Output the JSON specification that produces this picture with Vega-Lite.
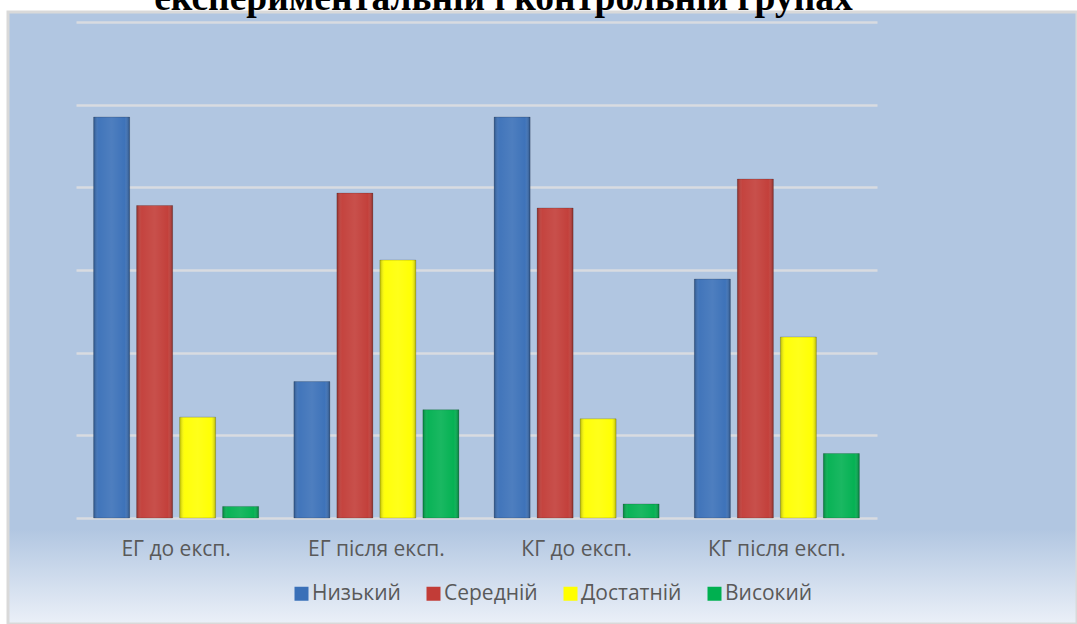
{
  "$schema": "https://vega.github.io/schema/vega-lite/v6.json",
  "autosize": "none",
  "width": 1069,
  "height": 612,
  "padding": {"left": 8, "top": 12, "right": 0, "bottom": 0},
  "background": "white",
  "title": {
    "text": "експериментальній і контрольній групах",
    "font": "Liberation Serif",
    "fontSize": 37.5,
    "fontWeight": "bold",
    "color": "#000000",
    "anchor": "middle",
    "frame": "group",
    "dx": -39,
    "offset": -5
  },
  "view": {
    "fill": {
      "gradient": "linear",
      "x1": 0, "y1": 0, "x2": 0, "y2": 1,
      "stops": [
        {"offset": 0, "color": "#b1c6e1"},
        {"offset": 0.845, "color": "#b1c6e1"},
        {"offset": 1, "color": "#ebf0f8"}
      ]
    },
    "stroke": "#d9d9d9",
    "strokeWidth": 3
  },
  "data": {
    "values": [
      {"group": "ЕГ до експ.", "level": "Низький", "value": 48.5},
      {"group": "ЕГ до експ.", "level": "Середній", "value": 37.8},
      {"group": "ЕГ до експ.", "level": "Достатній", "value": 12.2},
      {"group": "ЕГ до експ.", "level": "Високий", "value": 1.4},
      {"group": "ЕГ після експ.", "level": "Низький", "value": 16.5},
      {"group": "ЕГ після експ.", "level": "Середній", "value": 39.3},
      {"group": "ЕГ після експ.", "level": "Достатній", "value": 31.2},
      {"group": "ЕГ після експ.", "level": "Високий", "value": 13.1},
      {"group": "КГ до експ.", "level": "Низький", "value": 48.5},
      {"group": "КГ до експ.", "level": "Середній", "value": 37.5},
      {"group": "КГ до експ.", "level": "Достатній", "value": 12.0},
      {"group": "КГ до експ.", "level": "Високий", "value": 1.7},
      {"group": "КГ після експ.", "level": "Низький", "value": 28.9},
      {"group": "КГ після експ.", "level": "Середній", "value": 41.0},
      {"group": "КГ після експ.", "level": "Достатній", "value": 21.9},
      {"group": "КГ після експ.", "level": "Високий", "value": 7.8}
    ]
  },
  "encoding": {
    "x": {
      "field": "group",
      "type": "nominal",
      "sort": null,
      "scale": {"type": "band", "range": [68, 869], "paddingInner": 0, "paddingOuter": 0},
      "axis": {
        "title": null,
        "domain": false,
        "ticks": false,
        "labelAngle": 0,
        "labelFont": "Open Sans",
        "labelFontSize": 21,
        "labelColor": "#595959",
        "labelPadding": 0,
        "offset": -86
      }
    },
    "xOffset": {
      "field": "level",
      "type": "nominal",
      "sort": ["Низький", "Середній", "Достатній", "Високий"],
      "scale": {"paddingInner": 0.163, "paddingOuter": 0.41}
    },
    "y": {
      "field": "value",
      "type": "quantitative",
      "scale": {"domain": [0, 60], "range": [506, 10], "nice": false},
      "axis": {
        "title": null,
        "labels": false,
        "ticks": false,
        "domain": false,
        "values": [0, 10, 20, 30, 40, 50, 60],
        "grid": true,
        "gridColor": "#d9dbe0",
        "gridWidth": 2.5
      }
    }
  },
  "layer": [
    {
      "mark": {"type": "bar", "stroke": "#000000", "strokeOpacity": 0.18, "strokeWidth": 1},
      "encoding": {
        "color": {
          "field": "level",
          "type": "nominal",
          "sort": ["Низький", "Середній", "Достатній", "Високий"],
          "scale": {
            "domain": ["Низький", "Середній", "Достатній", "Високий"],
            "range": ["#3a70b8", "#c23c37", "#ffff00", "#00b050"]
          },
          "legend": {
            "title": null,
            "orient": "none",
            "legendX": 283,
            "legendY": 571,
            "direction": "horizontal",
            "symbolType": "square",
            "symbolSize": 196,
            "symbolStrokeWidth": 0,
            "symbolOpacity": 1,
            "labelFont": "Open Sans",
            "labelFontSize": 21,
            "labelColor": "#595959",
            "labelOffset": 0,
            "columnPadding": 22,
            "padding": 0
          }
        }
      }
    },
    {
      "mark": {
        "type": "bar",
        "fill": {
          "gradient": "linear",
          "x1": 0, "y1": 0, "x2": 1, "y2": 0,
          "stops": [
            {"offset": 0, "color": "rgba(0,0,0,0.28)"},
            {"offset": 0.14, "color": "rgba(255,255,255,0.04)"},
            {"offset": 0.5, "color": "rgba(255,255,255,0.1)"},
            {"offset": 0.86, "color": "rgba(255,255,255,0.02)"},
            {"offset": 1, "color": "rgba(0,0,0,0.3)"}
          ]
        }
      }
    }
  ]
}
